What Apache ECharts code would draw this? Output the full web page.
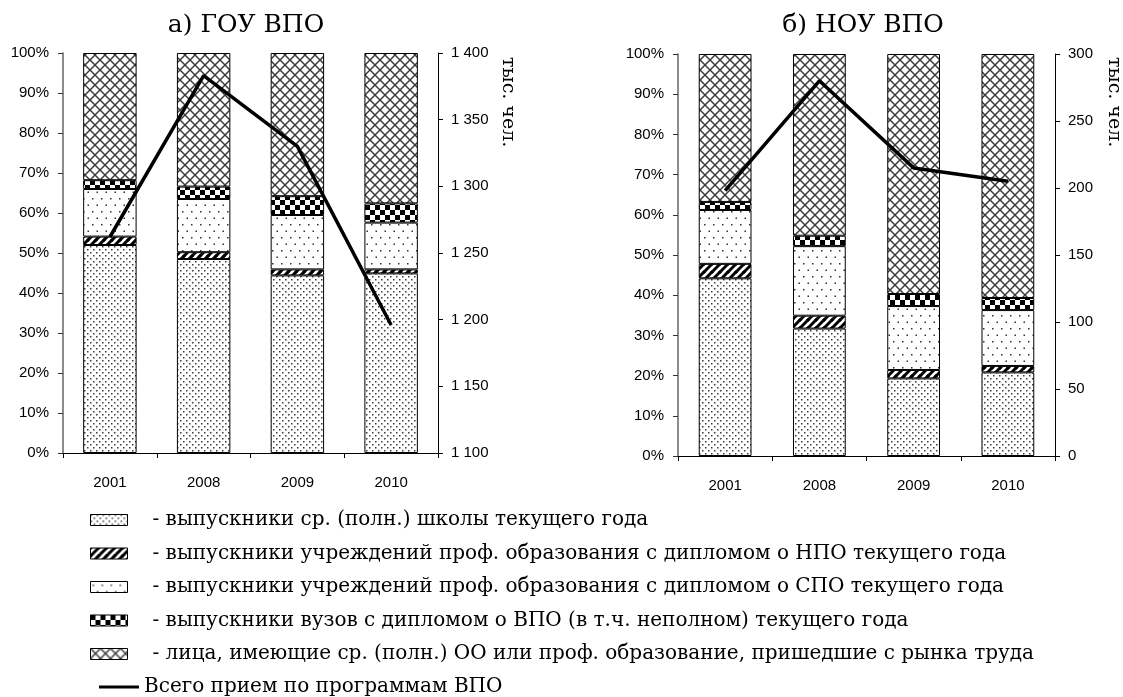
<!DOCTYPE html>
<html><head><meta charset="utf-8">
<script src="https://cdn.jsdelivr.net/npm/echarts@6/dist/echarts.min.js"></script>
<style>html,body{margin:0;padding:0;background:#fff}#c{width:1123px;height:697px}</style>
</head><body><div id="c"></div>
<script>
const years = ['2001','2008','2009','2010'];
const seriesNames = [
  'выпускники ср. (полн.) школы текущего года',
  'выпускники учреждений проф. образования с дипломом о НПО текущего года',
  'выпускники учреждений проф. образования с дипломом о СПО текущего года',
  'выпускники вузов с дипломом о ВПО (в т.ч. неполном) текущего года',
  'лица, имеющие ср. (полн.) ОО или проф. образование, пришедшие с рынка труда'
];
const lineName = 'Всего прием по программам ВПО';
// а) ГОУ ВПО, % structure
const gouSchool = [52.0, 48.5, 44.4, 44.9];
const gouNPO    = [2.1, 1.7, 1.5, 1.0];
const gouSPO    = [11.9, 13.3, 13.6, 11.7];
const gouVPO    = [2.2, 3.1, 4.7, 4.8];
const gouLabor  = [31.8, 33.4, 35.8, 37.6];
const gouTotal  = [1262, 1383, 1330, 1196];
// б) НОУ ВПО, % structure
const nouSchool = [44.2, 31.7, 19.3, 20.8];
const nouNPO    = [3.6, 3.2, 2.1, 1.6];
const nouSPO    = [13.4, 17.3, 15.9, 13.9];
const nouVPO    = [2.0, 2.6, 3.0, 3.0];
const nouLabor  = [36.8, 45.2, 59.7, 60.7];
const nouTotal  = [198, 280, 215, 205];

function tile(w, h, draw) {
  const c = document.createElement('canvas');
  c.width = w; c.height = h;
  const g = c.getContext('2d');
  g.fillStyle = '#fff'; g.fillRect(0, 0, w, h);
  draw(g);
  return c;
}
const patSchool = tile(6, 6, g => { g.fillStyle = '#3a3a3a'; g.fillRect(0, 0, 1.5, 1.5); g.fillRect(3, 3, 1.5, 1.5); });
const patNPO = tile(8, 8, g => {
  g.strokeStyle = '#000'; g.lineWidth = 3;
  [[-8,8,8,-8],[0,8,8,0],[0,16,16,0],[-4,4,4,-4],[4,12,12,4]].forEach(s => { g.beginPath(); g.moveTo(s[0], s[1]); g.lineTo(s[2], s[3]); g.stroke(); });
});
const patSPO = tile(9, 13, g => { g.fillStyle = '#333'; g.fillRect(2, 3, 1.5, 1.5); g.fillRect(6.5, 9.5, 1.5, 1.5); });
const patVPO = tile(10, 10, g => { g.fillStyle = '#000'; g.fillRect(0, 0, 5, 5); g.fillRect(5, 5, 5, 5); });
const patLabor = tile(10, 10, g => {
  g.strokeStyle = '#3c3c3c'; g.lineWidth = 1.5;
  g.beginPath(); g.moveTo(0, 0); g.lineTo(10, 10); g.stroke();
  g.beginPath(); g.moveTo(10, 0); g.lineTo(0, 10); g.stroke();
});
const pats = [patSchool, patNPO, patSPO, patVPO, patLabor];

const fmtThousands = v => String(v).replace(/\B(?=(\d{3})+(?!\d))/g, ' ');
const axisFont = { fontFamily: '"Liberation Sans Narrow","Liberation Sans",Arial,sans-serif', fontSize: 15, color: '#000' };
const serif = '"DejaVu Serif",serif';

function bars(prefixData, xi, yi, stack, bw) {
  return prefixData.map((d, i) => ({
    name: seriesNames[i], type: 'bar', stack: stack, xAxisIndex: xi, yAxisIndex: yi,
    barWidth: bw, data: d,
    itemStyle: { color: { image: pats[i], repeat: 'repeat' }, borderColor: '#000', borderWidth: 1 },
    emphasis: { disabled: true }, animation: false
  }));
}
function lineS(data, xi, yi) {
  return { name: lineName, type: 'line', xAxisIndex: xi, yAxisIndex: yi, data: data,
    symbol: 'none', lineStyle: { color: '#000', width: 3.5 }, itemStyle: { color: '#000' }, z: 5, animation: false };
}

const chart = echarts.init(document.getElementById('c'), null, { renderer: 'canvas' });
const xCommon = {
  type: 'category', data: years,
  axisLine: { lineStyle: { color: '#000', width: 1 } },
  axisTick: { show: true, length: 5, lineStyle: { color: '#000' } },
  axisLabel: Object.assign({ margin: 22 }, axisFont),
  splitLine: { show: false }
};
const yPct = {
  type: 'value', min: 0, max: 100, interval: 10,
  axisLine: { show: true, lineStyle: { color: '#666', width: 1.5 } },
  axisTick: { show: true, length: 5, lineStyle: { color: '#333' } },
  axisLabel: Object.assign({ margin: 14, formatter: '{value}%' }, axisFont),
  splitLine: { show: false }
};
const yAbs = (min, max) => ({
  type: 'value', min: min, max: max, interval: 50, position: 'right',
  axisLine: { show: true, lineStyle: { color: '#000', width: 1 } },
  axisTick: { show: true, length: 5, lineStyle: { color: '#000' } },
  axisLabel: Object.assign({ margin: 13, formatter: fmtThousands }, axisFont),
  splitLine: { show: false }
});

const legendText = { fontFamily: serif, fontSize: 20, color: '#000', lineHeight: 24, padding: [0, 0, 0, 20] };

chart.setOption({
  backgroundColor: '#fff',
  animation: false,
  title: [
    { text: 'а) ГОУ ВПО', left: 241, top: 8, textAlign: 'center', textStyle: { fontFamily: serif, fontSize: 25, fontWeight: 'normal', color: '#000' } },
    { text: 'б) НОУ ВПО', left: 858, top: 8, textAlign: 'center', textStyle: { fontFamily: serif, fontSize: 25, fontWeight: 'normal', color: '#000' } }
  ],
  grid: [
    { left: 63, right: 685, top: 53, bottom: 244 },
    { left: 678, right: 68, top: 54, bottom: 241 }
  ],
  xAxis: [ Object.assign({ gridIndex: 0 }, xCommon), Object.assign({ gridIndex: 1 }, xCommon) ],
  yAxis: [
    Object.assign({ gridIndex: 0 }, yPct),
    Object.assign({ gridIndex: 0 }, yAbs(1100, 1400)),
    Object.assign({ gridIndex: 1 }, yPct),
    Object.assign({ gridIndex: 1 }, yAbs(0, 300))
  ],
  legend: [
    { orient: 'vertical', left: 85, top: 503, itemWidth: 37, itemHeight: 11, itemGap: 9.5,
      data: seriesNames, formatter: '- {name}', textStyle: legendText, selectedMode: false, icon: 'rect',
      itemStyle: { borderColor: '#000', borderWidth: 1 } },
    { orient: 'vertical', left: 94, top: 670, itemWidth: 40, itemHeight: 3, icon: 'rect',
      data: [lineName], textStyle: { fontFamily: serif, fontSize: 20, color: '#000', lineHeight: 24 }, selectedMode: false }
  ],
  graphic: [
    { type: 'text', x: 508, y: 57, rotation: -Math.PI / 2, style: { text: 'тыс. чел.', font: '19px "DejaVu Serif", serif', fill: '#000', textAlign: 'left', textVerticalAlign: 'middle' } },
    { type: 'text', x: 1114, y: 57, rotation: -Math.PI / 2, style: { text: 'тыс. чел.', font: '19px "DejaVu Serif", serif', fill: '#000', textAlign: 'left', textVerticalAlign: 'middle' } }
  ],
  series: [
    ...bars([gouSchool, gouNPO, gouSPO, gouVPO, gouLabor], 0, 0, 'gou', '57%'),
    lineS(gouTotal, 0, 1),
    ...bars([nouSchool, nouNPO, nouSPO, nouVPO, nouLabor], 1, 2, 'nou', '56%'),
    lineS(nouTotal, 1, 3)
  ]
});
</script></body></html>
